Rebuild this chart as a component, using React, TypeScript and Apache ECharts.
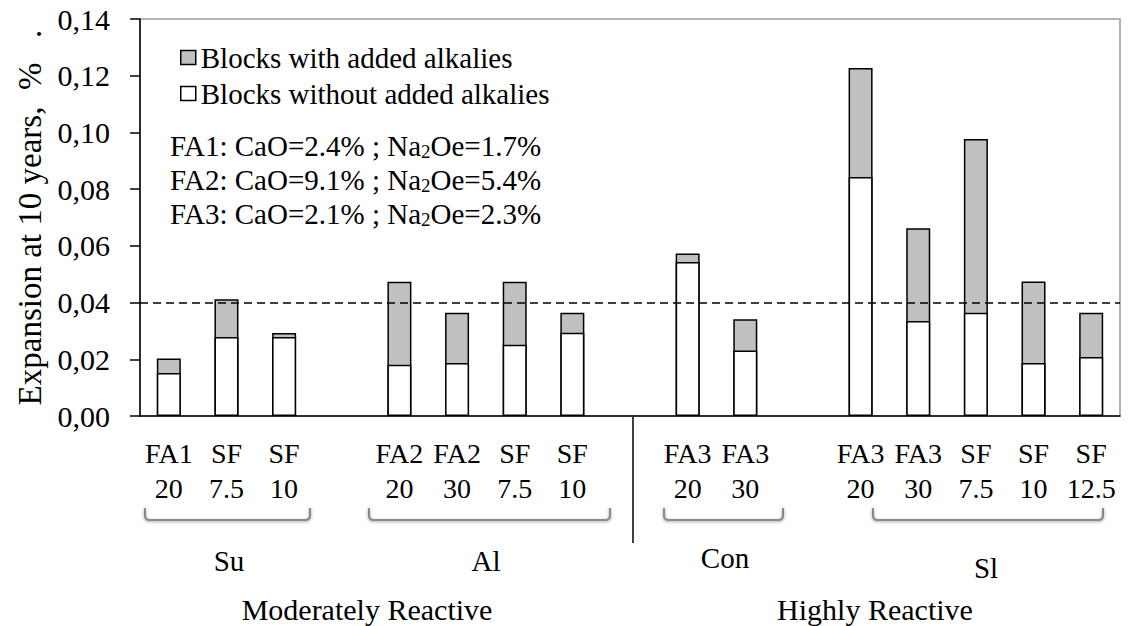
import React, { useEffect, useRef } from "react";
import * as echarts from "echarts";

// Category slots (empty strings are gaps between groups)
const categories: string[] = [
  "FA1\n20", "SF\n7.5", "SF\n10", "",
  "FA2\n20", "FA2\n30", "SF\n7.5", "SF\n10", "",
  "FA3\n20", "FA3\n30", "",
  "FA3\n20", "FA3\n30", "SF\n7.5", "SF\n10", "SF\n12.5",
];

// Expansion at 10 years (%), blocks with added alkalies (total bar height)
const withAlkalies: (number | null)[] = [
  0.0203, 0.0412, 0.0293, null,
  0.0473, 0.0364, 0.0473, 0.0364, null,
  0.0573, 0.0341, null,
  0.1227, 0.0662, 0.0977, 0.0474, 0.0364,
];

// Expansion at 10 years (%), blocks without added alkalies
const withoutAlkalies: (number | null)[] = [
  0.0152, 0.0279, 0.0279, null,
  0.0181, 0.0187, 0.0251, 0.0294, null,
  0.0543, 0.0231, null,
  0.0843, 0.0335, 0.0364, 0.0187, 0.0208,
];

const yTicks = { min: 0, max: 0.14, interval: 0.02 };
const limitValue = 0.04;

const seriesNames = ["Blocks with added alkalies", "Blocks without added alkalies"];

const notes: string[][] = [
  ["FA1", "2.4", "1.7"],
  ["FA2", "9.1", "5.4"],
  ["FA3", "2.1", "2.3"],
];

const groups = [
  { label: "Su", x1: 145, x2: 310, tick: 227, lx: 229, ly: 561 },
  { label: "Al", x1: 369, x2: 610, tick: 488, lx: 486, ly: 561 },
  { label: "Con", x1: 664, x2: 783, tick: 724, lx: 725, ly: 558 },
  { label: "Sl", x1: 873, x2: 1103, tick: 987, lx: 986, ly: 568 },
];

const superGroups = [
  { label: "Moderately Reactive", x: 367, y: 609 },
  { label: "Highly Reactive", x: 875, y: 609 },
];

const FONT = "Liberation Serif";

function bracket(x1: number, x2: number, tick: number) {
  const yTop = 508;
  const yH = 520;
  const yB = 533;
  const r = 4;
  const pts: number[][] = [];
  pts.push([x1, yTop]);
  pts.push([x1, yH - r]);
  for (let i = 1; i <= 4; i++) {
    const a = Math.PI - (i * Math.PI) / 8;
    pts.push([x1 + r + r * Math.cos(a), yH - r + r * Math.sin(a)]);
  }
  pts.push([x2 - r, yH]);
  for (let i = 1; i <= 4; i++) {
    const a = Math.PI / 2 - (i * Math.PI) / 8;
    pts.push([x2 - r + r * Math.cos(a), yH - r + r * Math.sin(a)]);
  }
  pts.push([x2, yTop]);
  const style = {
    stroke: "#8a8a8a",
    lineWidth: 2.2,
    fill: null as any,
    shadowBlur: 3,
    shadowColor: "rgba(0,0,0,0.35)",
    shadowOffsetY: 1,
  };
  return [
    { type: "polyline", shape: { points: pts }, style },
    { type: "line", shape: { x1: tick, y1: yH, x2: tick, y2: yB }, style },
  ];
}

export default function App() {
  const ref = useRef<HTMLDivElement>(null);
  useEffect(() => {
    document.body.style.margin = "0";
    document.body.style.overflow = "hidden";
    if (!ref.current) return;
    const chart = echarts.init(ref.current, null, { renderer: "svg" });

    const graphics: any[] = [];
    notes.forEach((n, i) => {
      graphics.push({
        type: "text",
        left: 170,
        top: 131 + i * 34,
        style: {
          text: `${n[0]}: CaO=${n[1]}% ; Na{s|2}Oe=${n[2]}%`,
          fontSize: 29,
          fontFamily: FONT,
          fill: "#000",
          lineHeight: 30,
          rich: {
            s: { fontSize: 19, fontFamily: FONT, verticalAlign: "bottom", lineHeight: 18, fill: "#000" },
          },
        },
      });
    });
    groups.forEach((g) => {
      graphics.push(...bracket(g.x1, g.x2, g.tick));
      graphics.push({
        type: "text",
        x: g.lx,
        y: g.ly,
        style: { text: g.label, fontSize: 29, fontFamily: FONT, fill: "#000", align: "center", verticalAlign: "middle" },
      });
    });
    superGroups.forEach((g) => {
      graphics.push({
        type: "text",
        x: g.x,
        y: g.y,
        style: { text: g.label, fontSize: 30, fontFamily: FONT, fill: "#000", align: "center", verticalAlign: "middle" },
      });
    });
    graphics.push({
      type: "line",
      shape: { x1: 633, y1: 417, x2: 633, y2: 543 },
      style: { stroke: "#000", lineWidth: 1.5 },
    });

    chart.setOption({
      animation: false,
      textStyle: { fontFamily: FONT, color: "#000" },
      grid: {
        left: 140,
        right: 8,
        top: 19,
        bottom: 210,
        show: true,
        borderColor: "#9a9a9a",
        borderWidth: 1.5,
        containLabel: false,
        outerBoundsMode: "none",
      },
      legend: {
        orient: "vertical",
        left: 175,
        top: 37,
        icon: "rect",
        itemWidth: 15,
        itemHeight: 14,
        itemGap: 5,
        itemStyle: { borderColor: "#000", borderWidth: 1.5 },
        textStyle: { fontSize: 29, fontFamily: FONT, color: "#000", lineHeight: 31 },
        data: seriesNames,
      },
      xAxis: {
        type: "category",
        data: categories,
        axisLine: { lineStyle: { color: "#000", width: 1.5 } },
        axisTick: { show: false },
        axisLabel: {
          interval: 0,
          fontSize: 28,
          fontFamily: FONT,
          color: "#000",
          lineHeight: 35,
          margin: 20,
        },
      },
      yAxis: {
        type: "value",
        min: yTicks.min,
        max: yTicks.max,
        interval: yTicks.interval,
        name: "Expansion at 10 years,  %   .",
        nameLocation: "middle",
        nameGap: 94,
        nameTextStyle: { fontSize: 33, fontFamily: FONT, color: "#000" },
        axisLine: { show: true, lineStyle: { color: "#000", width: 1.5 } },
        axisTick: { show: true, length: 10, lineStyle: { color: "#000", width: 1.5 } },
        splitLine: { show: false },
        axisLabel: {
          fontSize: 30,
          fontFamily: FONT,
          color: "#000",
          margin: 30,
          formatter: (v: number) => v.toFixed(2).replace(".", ","),
        },
      },
      series: [
        {
          name: seriesNames[0],
          type: "bar",
          data: withAlkalies,
          barWidth: 24,
          barGap: "-100%",
          itemStyle: { color: "#c0c0c0", borderColor: "#000", borderWidth: 1.5 },
        },
        {
          name: seriesNames[1],
          type: "bar",
          data: withoutAlkalies,
          barWidth: 24,
          barGap: "-100%",
          itemStyle: { color: "#ffffff", borderColor: "#000", borderWidth: 1.5 },
          markLine: {
            silent: true,
            symbol: "none",
            label: { show: false },
            lineStyle: { color: "#000", type: [8, 5], width: 1.5 },
            data: [{ yAxis: limitValue }],
          },
        },
      ],
      graphic: graphics,
    });
    return () => chart.dispose();
  }, []);
  return <div ref={ref} style={{ width: 1128, height: 626 }} />;
}
